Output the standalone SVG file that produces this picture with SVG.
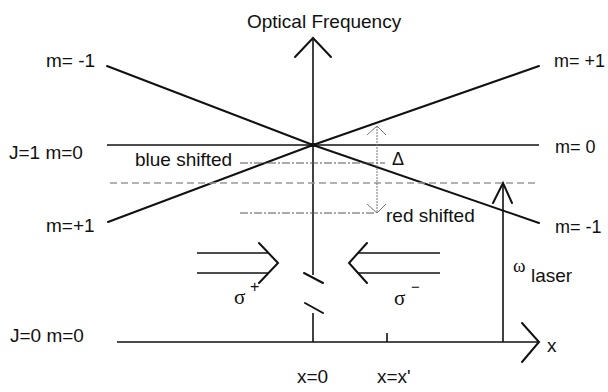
<svg xmlns="http://www.w3.org/2000/svg" width="608" height="392" viewBox="0 0 608 392">
<style>
.t{font-family:"Liberation Sans",Arial,sans-serif;font-size:19px;fill:#111}
.r{font-size:18px}
.s{font-family:"Liberation Serif","DejaVu Serif",serif;fill:#111}
.ln{stroke:#111;stroke-width:2;fill:none;stroke-linecap:round;stroke-linejoin:miter}
.ax{stroke:#111;stroke-width:1.6;fill:none}
.dash{stroke:#999;stroke-width:1.3;stroke-dasharray:7 4;fill:none}
.dd{stroke:#555;stroke-width:1;stroke-dasharray:8 2 2 2;fill:none}
.dl{stroke:#777;stroke-width:1;fill:none}
</style>
<rect width="608" height="392" fill="#fff"/>
<g id="connectors">
  <!-- vertical frequency axis -->
  <line class="ax" x1="313" y1="38" x2="313" y2="275"/>
  <polyline class="ln" points="295,57 313,38 331,57"/>
  <line class="ln" x1="304" y1="273" x2="323" y2="283"/>
  <line class="ln" x1="305" y1="303" x2="323" y2="313"/>
  <line class="ax" x1="313" y1="313" x2="313" y2="342"/>
  <!-- x axis -->
  <line class="ax" x1="117" y1="342" x2="539" y2="342"/>
  <polyline class="ln" points="522,323 539,342 522,362"/>
  <line class="ax" x1="387" y1="333" x2="387" y2="342"/>
  <!-- laser arrow -->
  <line class="ax" x1="503" y1="342" x2="503" y2="184"/>
  <polyline class="ln" points="493,203 503,183 512,203"/>
  <!-- levels -->
  <line class="ax" x1="107" y1="145" x2="539" y2="145"/>
  <polyline class="ln" points="107,66 313,145 539,223"/>
  <polyline class="ln" points="108,222 313,145 539,66"/>
  <ellipse cx="313" cy="145" rx="4" ry="2" fill="#111"/>
  <line class="dash" x1="110" y1="183" x2="538" y2="183"/>
  <line class="dd" x1="240" y1="163" x2="385" y2="163"/>
  <line class="dd" x1="240" y1="213" x2="375" y2="213"/>
  <!-- Delta arrow -->
  <line class="dl" x1="377" y1="126" x2="377" y2="213" stroke-dasharray="2 1"/>
  <polyline class="dl" points="367,135 377,126 386,135"/>
  <polyline class="dl" points="367,204 377,213 386,204"/>
  <!-- sigma+ beam -->
  <line class="ax" x1="197" y1="253" x2="268" y2="253"/>
  <line class="ax" x1="197" y1="273" x2="268" y2="273"/>
  <polyline class="ln" points="259,243 278,263 259,283"/>
  <!-- sigma- beam -->
  <line class="ax" x1="358" y1="253" x2="440" y2="253"/>
  <line class="ax" x1="358" y1="273" x2="440" y2="273"/>
  <polyline class="ln" points="367,243 349,263 367,283"/>
</g>
<g id="labels">
  <text class="t" x="247" y="28">Optical Frequency</text>
  <text class="t" x="46" y="67">m= -1</text>
  <text class="t" x="9" y="159">J=1 m=0</text>
  <text class="t" x="46" y="232">m=+1</text>
  <text class="t" x="10" y="342">J=0 m=0</text>
  <text class="t r" x="554" y="67">m= +1</text>
  <text class="t r" x="555" y="153">m= 0</text>
  <text class="t r" x="555" y="233">m= -1</text>
  <text class="t" x="135" y="166">blue shifted</text>
  <text class="t" x="386" y="222">red shifted</text>
  <text class="t" x="392" y="165" style="font-size:18px">Δ</text>
  <text class="s" x="234" y="304" style="font-size:21px">σ</text>
  <text class="t" x="250" y="292" style="font-size:16px">+</text>
  <text class="s" x="394" y="305" style="font-size:21px">σ</text>
  <text class="t" x="411" y="292" style="font-size:15px">−</text>
  <text class="s" x="513" y="272" style="font-size:19px">ω</text>
  <text class="t" x="531" y="282">laser</text>
  <text class="t" x="547" y="352">x</text>
  <text class="t" x="297" y="383">x=0</text>
  <text class="t" x="377" y="383">x=x'</text>
</g>
</svg>
